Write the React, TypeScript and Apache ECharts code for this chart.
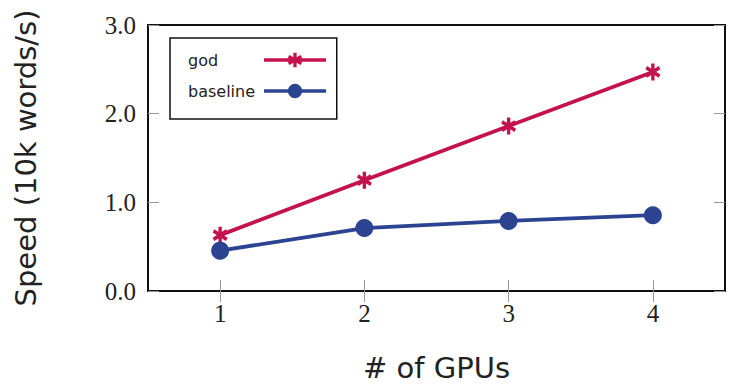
import React, { useEffect, useRef } from "react";
import * as echarts from "echarts";

const gpus = [1, 2, 3, 4];
const godSpeed = [0.63, 1.25, 1.86, 2.47];
const baselineSpeed = [0.455, 0.71, 0.79, 0.855];
const yTicks = [0, 1, 2, 3];
const seriesNames = ["god", "baseline"];

function asteriskPath(): string {
  const r = 10;
  const w = 2.2;
  const parts: string[] = [];
  [90, 30, 150].forEach((deg) => {
    const a = (deg * Math.PI) / 180;
    const dx = Math.cos(a), dy = Math.sin(a);
    const nx = -dy * w, ny = dx * w;
    const p = [
      [r * dx + nx, r * dy + ny],
      [r * dx - nx, r * dy - ny],
      [-r * dx - nx, -r * dy - ny],
      [-r * dx + nx, -r * dy + ny],
    ];
    parts.push(
      "M" + p.map((q) => q[0].toFixed(2) + "," + q[1].toFixed(2)).join("L") + "Z"
    );
  });
  return "path://" + parts.join("");
}

export default function App() {
  const ref = useRef<HTMLDivElement>(null);
  useEffect(() => {
    if (!ref.current) return;
    const chart = echarts.init(ref.current, null, { renderer: "svg" });
    const red = "#C4124E";
    const blue = "#2B4390";
    const serif = "'Liberation Serif', 'DejaVu Serif', serif";
    const sans = "'DejaVu Sans', sans-serif";
    const tickStyle = { show: true, inside: true, length: 11, lineStyle: { color: "#999", width: 1 } };
    chart.setOption({
      animation: false,
      backgroundColor: "#fff",
      grid: { left: 148, right: 15, top: 25, bottom: 96, show: true, borderColor: "#111", borderWidth: 2, backgroundColor: "transparent" },
      legend: {
        orient: "vertical",
        left: 170,
        top: 38,
        padding: [14, 9, 20, 18],
        itemGap: 15,
        itemWidth: 62,
        itemHeight: 18,
        align: "right",
        borderColor: "#111",
        borderWidth: 1.5,
        data: seriesNames,
        lineStyle: { width: 3.5 },
        formatter: (name: string) => "{t|" + name + "}",
        textStyle: {
          fontFamily: sans,
          fontSize: 16,
          color: "#222",
          rich: { t: { width: 71, align: "left", fontFamily: sans, fontSize: 16, color: "#222" } },
        },
      },
      xAxis: [
        {
          type: "value",
          min: 0.5,
          max: 4.5,
          position: "bottom",
          name: "# of GPUs",
          nameLocation: "middle",
          nameGap: 62,
          nameTextStyle: { fontFamily: sans, fontSize: 29, color: "#222" },
          axisLine: { show: false },
          splitLine: { show: false },
          axisTick: { ...tickStyle, customValues: gpus },
          axisLabel: { customValues: gpus, fontFamily: serif, fontSize: 25, color: "#222", margin: 10 },
        },
        {
          type: "value",
          min: 0.5,
          max: 4.5,
          position: "top",
          axisLine: { show: false },
          splitLine: { show: false },
          axisTick: { ...tickStyle, customValues: gpus },
          axisLabel: { show: false, customValues: gpus },
        },
      ],
      yAxis: [
        {
          type: "value",
          min: 0,
          max: 3,
          interval: 1,
          position: "left",
          name: "Speed (10k words/s)",
          nameLocation: "middle",
          nameGap: 108,
          nameTextStyle: { fontFamily: sans, fontSize: 29, color: "#222" },
          axisLine: { show: false },
          splitLine: { show: false },
          axisTick: tickStyle,
          axisLabel: {
            fontFamily: serif,
            fontSize: 25,
            color: "#222",
            margin: 12,
            formatter: (v: number) => v.toFixed(1),
            customValues: yTicks,
          },
        },
        {
          type: "value",
          min: 0,
          max: 3,
          interval: 1,
          position: "right",
          axisLine: { show: false },
          splitLine: { show: false },
          axisTick: tickStyle,
          axisLabel: { show: false },
        },
      ],
      series: [
        {
          name: seriesNames[0],
          type: "line",
          data: gpus.map((g, i) => [g, godSpeed[i]]),
          color: red,
          lineStyle: { width: 3.8, color: red },
          itemStyle: { color: red },
          symbol: asteriskPath(),
          symbolSize: [15, 17],
        },
        {
          name: seriesNames[1],
          type: "line",
          data: gpus.map((g, i) => [g, baselineSpeed[i]]),
          color: blue,
          lineStyle: { width: 3.8, color: blue },
          itemStyle: { color: blue },
          symbol: "circle",
          symbolSize: 18,
        },
      ],
    });
    return () => chart.dispose();
  }, []);
  return <div ref={ref} style={{ width: 740, height: 387, position: "absolute", left: 0, top: 0 }} />;
}
